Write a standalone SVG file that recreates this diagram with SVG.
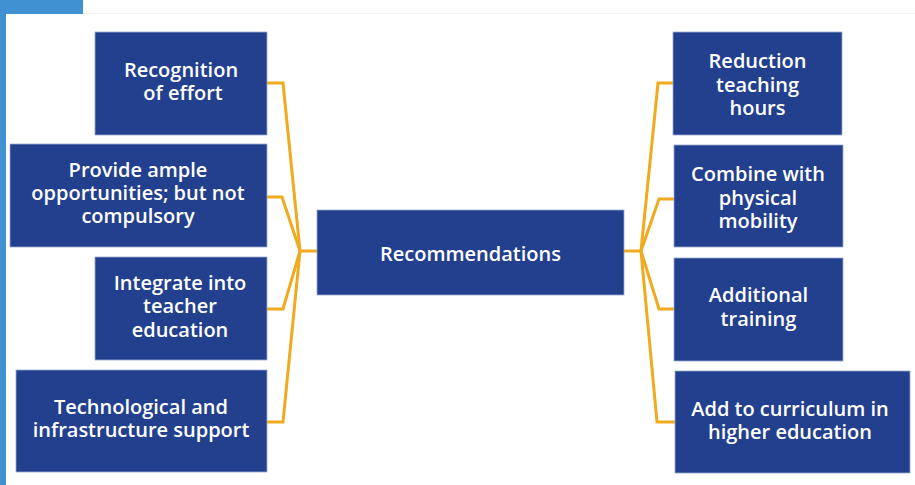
<svg xmlns="http://www.w3.org/2000/svg" width="915" height="485" viewBox="0 0 915 485">
<style>
.box{fill:#23408e;stroke:#9aa8d0;stroke-width:0.8}
.t{fill:#ffffff;font-family:"Open Sans","Noto Sans","Liberation Sans",sans-serif;font-weight:600;font-size:20px;text-anchor:middle}
.c{fill:none;stroke:#f0aa1e;stroke-width:3;stroke-linejoin:miter}
</style>
<rect x="0" y="0" width="915" height="485" fill="#ffffff"/>
<line x1="83" y1="13.5" x2="915" y2="13.5" stroke="#f2f2f2" stroke-width="1"/>
<rect x="0" y="0" width="83" height="14" fill="#3f91d2"/>
<rect x="0" y="0" width="6" height="485" fill="#3f91d2"/>
<g id="connectors">
<polyline class="c" points="267,83 283,83 300,251"/>
<polyline class="c" points="267,197 282,197 300,251"/>
<polyline class="c" points="267,309 283,309 300,251"/>
<polyline class="c" points="267,422 283,422 300,251"/>
<line class="c" x1="300" y1="251" x2="317" y2="251"/>
<polyline class="c" points="673,83 658,83 641,251"/>
<polyline class="c" points="674,199 659,199 641,251"/>
<polyline class="c" points="674,309 659,309 641,251"/>
<polyline class="c" points="675,422 657,422 641,251"/>
<line class="c" x1="624" y1="251" x2="641" y2="251"/>
</g>
<g id="recognition">
<rect class="box" x="95" y="32" width="172" height="103"/>
<text class="t" x="181" y="77">Recognition</text>
<text class="t" x="183" y="100">of effort</text>
</g>
<g id="provide">
<rect class="box" x="10" y="144" width="257" height="103"/>
<text class="t" x="138" y="177">Provide ample</text>
<text class="t" x="138" y="200">opportunities; but not</text>
<text class="t" x="138" y="223">compulsory</text>
</g>
<g id="integrate">
<rect class="box" x="95" y="257" width="172" height="103"/>
<text class="t" x="180" y="290">Integrate into</text>
<text class="t" x="180" y="313">teacher</text>
<text class="t" x="180" y="337">education</text>
</g>
<g id="technological">
<rect class="box" x="16" y="370" width="251" height="102"/>
<text class="t" x="141" y="414">Technological and</text>
<text class="t" x="141" y="437">infrastructure support</text>
</g>
<g id="recommendations">
<rect class="box" x="317" y="210" width="307" height="85"/>
<text class="t" x="470.5" y="261">Recommendations</text>
</g>
<g id="reduction">
<rect class="box" x="673" y="32" width="169" height="103"/>
<text class="t" x="757.5" y="68">Reduction</text>
<text class="t" x="757.5" y="92">teaching</text>
<text class="t" x="757.5" y="115">hours</text>
</g>
<g id="combine">
<rect class="box" x="674" y="145" width="169" height="102"/>
<text class="t" x="758" y="181">Combine with</text>
<text class="t" x="758" y="205">physical</text>
<text class="t" x="758" y="228">mobility</text>
</g>
<g id="additional">
<rect class="box" x="674" y="258" width="169" height="103"/>
<text class="t" x="758.5" y="302">Additional</text>
<text class="t" x="758.5" y="326">training</text>
</g>
<g id="curriculum">
<rect class="box" x="675" y="371" width="235" height="102"/>
<text class="t" x="790" y="416">Add to curriculum in</text>
<text class="t" x="790" y="439">higher education</text>
</g>
</svg>
